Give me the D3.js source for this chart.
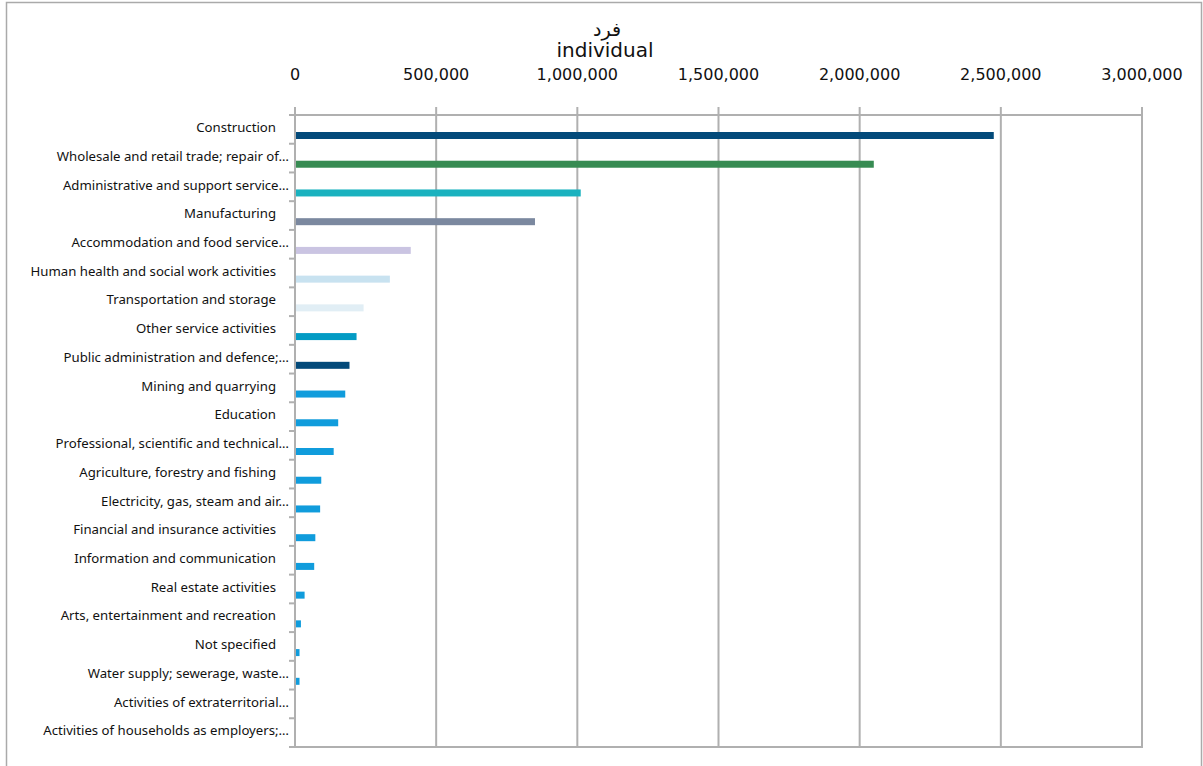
<!DOCTYPE html>
<html>
<head>
<meta charset="utf-8">
<script src="https://cdn.jsdelivr.net/npm/d3@7"></script>
<style>
  html, body { margin: 0; padding: 0; background: #fff; }
  svg { display: block; }
</style>
</head>
<body>
<svg id="chart" width="1203" height="766"></svg>
<script>
const categories = [
  "Construction",
  "Wholesale and retail trade; repair of…",
  "Administrative and support service…",
  "Manufacturing",
  "Accommodation and food service…",
  "Human health and social work activities",
  "Transportation and storage",
  "Other service activities",
  "Public administration and defence;…",
  "Mining and quarrying",
  "Education",
  "Professional, scientific and technical…",
  "Agriculture, forestry and fishing",
  "Electricity, gas, steam and air…",
  "Financial and insurance activities",
  "Information and communication",
  "Real estate activities",
  "Arts, entertainment and recreation",
  "Not specified",
  "Water supply; sewerage, waste…",
  "Activities of extraterritorial…",
  "Activities of households as employers;…"
];
const values = [
  2475000, 2050000, 1012000, 850000, 410000, 336000, 243000, 218000,
  193000, 178000, 153000, 137000, 93000, 89000, 72000, 68000,
  34000, 21000, 16000, 16000, 300, 200
];
const barColors = [
  "#034a7a", "#378b52", "#1ab2bf", "#7b889f", "#cac4e2", "#c8e2f0",
  "#e1eef5", "#039bc4", "#034a7a", "#109cdc", "#109cdc", "#109cdc",
  "#109cdc", "#109cdc", "#109cdc", "#109cdc", "#109cdc", "#109cdc",
  "#109cdc", "#109cdc", "#109cdc", "#109cdc"
];
const tickValues = [0, 500000, 1000000, 1500000, 2000000, 2500000, 3000000];
const titleLines = ["فرد", "individual"];

const svg = d3.select("#chart");
const gridColor = "#b0b0b0";

// outer frame
svg.append("rect")
  .attr("x", 6.5).attr("y", 2.5)
  .attr("width", 1195).attr("height", 800)
  .attr("fill", "none").attr("stroke", "#aaaaaa").attr("stroke-width", 1.5);

const pLeft = 295, pRight = 1142, pTop = 115, pBottom = 747;
const x = d3.scaleLinear().domain([0, 3000000]).range([pLeft, pRight]);
const y = d3.scaleBand().domain(categories).range([pTop, pBottom]).paddingInner(0).paddingOuter(0);

// vertical gridlines
svg.append("g").selectAll("line").data(tickValues).join("line")
  .attr("x1", d => x(d)).attr("x2", d => x(d))
  .attr("y1", pTop - 8).attr("y2", pBottom)
  .attr("stroke", gridColor).attr("stroke-width", 2);

// top and bottom horizontal lines
[pTop, pBottom].forEach(yy => {
  svg.append("line")
    .attr("x1", pLeft - 6).attr("x2", pRight + 1)
    .attr("y1", yy).attr("y2", yy)
    .attr("stroke", gridColor).attr("stroke-width", 2);
});

// left axis ticks at band boundaries
const bounds = categories.map(c => y(c)).concat([pBottom]);
svg.append("g").selectAll("line").data(bounds).join("line")
  .attr("x1", pLeft - 6).attr("x2", pLeft)
  .attr("y1", d => d).attr("y2", d => d)
  .attr("stroke", gridColor).attr("stroke-width", 2);

// top axis labels
const fmt = d3.format(",");
svg.append("g").selectAll("text").data(tickValues).join("text")
  .attr("x", d => x(d)).attr("y", 80)
  .attr("text-anchor", "middle")
  .attr("font-family", "DejaVu Sans, sans-serif")
  .attr("font-size", 16)
  .attr("fill", "#111")
  .text(d => fmt(d));

// title
svg.append("text").attr("x", 607).attr("y", 36)
  .attr("text-anchor", "middle")
  .attr("font-family", "DejaVu Sans, sans-serif")
  .attr("font-size", 19).attr("fill", "#111")
  .text(titleLines[0]);
svg.append("text").attr("x", 605).attr("y", 57)
  .attr("text-anchor", "middle")
  .attr("font-family", "DejaVu Sans, sans-serif")
  .attr("font-size", 20).attr("fill", "#111")
  .text(titleLines[1]);

// bars
svg.append("g").selectAll("rect").data(categories).join("rect")
  .attr("x", x(0) + 1)
  .attr("y", d => y(d) + 17)
  .attr("width", (d, i) => Math.max(0, x(values[i]) - x(0) - 1))
  .attr("height", 7)
  .attr("fill", (d, i) => barColors[i]);

// category labels
svg.append("g").selectAll("text").data(categories).join("text")
  .attr("x", d => d.endsWith("…") ? 289 : 276)
  .attr("y", d => y(d) + 12.5)
  .attr("dy", "0.35em")
  .attr("text-anchor", "end")
  .attr("font-family", "Noto Sans, sans-serif")
  .attr("font-size", 13.2)
  .attr("fill", "#111")
  .text(d => d);
</script>
</body>
</html>
